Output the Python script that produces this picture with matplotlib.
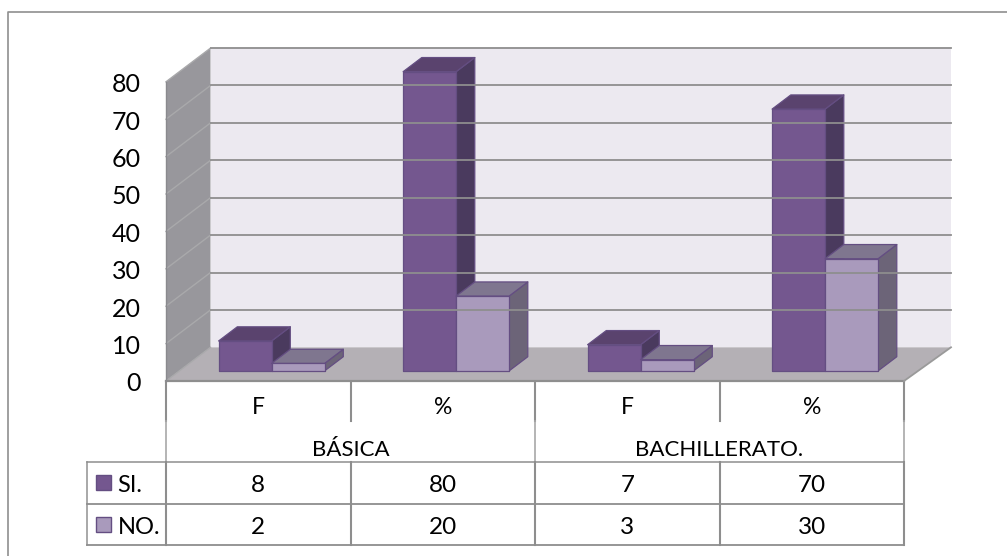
import matplotlib
matplotlib.use("Agg")
import matplotlib.pyplot as plt
from matplotlib.patches import Polygon, Rectangle

groups = ["BÁSICA", "BACHILLERATO."]
categories = ["F", "%", "F", "%"]
si_values = [8, 80, 7, 70]
no_values = [2, 20, 3, 30]
y_ticks = [0, 10, 20, 30, 40, 50, 60, 70, 80]

W, H = 1007, 556
plt.rcParams["font.family"] = ["Lato", "DejaVu Sans"]
fig = plt.figure(figsize=(W / 100, H / 100), dpi=100)

# pixel axes for frame and data table
tb = fig.add_axes([0, 0, 1, 1])
tb.set_xlim(0, W)
tb.set_ylim(H, 0)
tb.axis("off")

# chart axes: x in categories, y in values, covers the whole figure
ux, uy = 184.5, 3.74
x0, y0 = 166, 381
ax = fig.add_axes([0, 0, 1, 1])
ax.set_xlim(-x0 / ux, (W - x0) / ux)
ax.set_ylim(-(H - y0) / uy, y0 / uy)
ax.axis("off")
ax.patch.set_alpha(0)

depth_x = 44.5 / ux
depth_y = 33.7 / uy


def proj(x, y, d):
    return (x + depth_x * d, y + depth_y * d)


n = len(categories)
back_n = n + 2.5 / ux
top = y_ticks[-1]
grid_c = "#8E8E8E"

ax.add_patch(Polygon([proj(0, 0, 1), proj(back_n, 0, 1), proj(back_n, top, 1), proj(0, top, 1)],
                     fc="#ECE9F0", ec="none"))
ax.add_patch(Polygon([proj(0, 0, 0), proj(0, 0, 1), proj(0, top, 1), proj(0, top, 0)],
                     fc="#98979C", ec="none"))
ax.add_patch(Polygon([proj(0, 0, 0), proj(n, 0, 0), proj(back_n, 0, 1), proj(0, 0, 1)],
                     fc="#B4B0B5", ec="none"))

for t in y_ticks:
    a, b, c = proj(0, t, 0), proj(0, t, 1), proj(back_n, t, 1)
    ax.plot([a[0], b[0]], [a[1], b[1]], color="#A9A9AB", lw=1.0)
    if t > 0:
        ax.plot([b[0], c[0]], [b[1], c[1]], color=grid_c, lw=1.3)
    ax.text(-25 / ux, t - 0.8, str(t), ha="right", va="center", fontsize=18, color="black")

# outline of the floor front and the left wall
a, b = proj(n, 0, 0), proj(back_n, 0, 1)
ax.plot([0, n], [0, 0], color=grid_c, lw=1.6)
ax.plot([a[0], b[0]], [a[1], b[1]], color="#9A9A9A", lw=1.3)
ax.plot([0, 0], [0, top], color="#8A8A8E", lw=1.0)

bar_w = 53 / ux
d1, d2 = 0.3, 0.72


def bar3d(left, val, front, upper, side):
    right = left + bar_w
    edge = "#644E82"
    ax.add_patch(Polygon([proj(right, 0, d1), proj(right, 0, d2), proj(right, val, d2), proj(right, val, d1)],
                         fc=side, ec=edge, lw=0.9, joinstyle="round"))
    ax.add_patch(Polygon([proj(left, val, d1), proj(right, val, d1), proj(right, val, d2), proj(left, val, d2)],
                         fc=upper, ec=edge, lw=0.9, joinstyle="round"))
    ax.add_patch(Polygon([proj(left, 0, d1), proj(right, 0, d1), proj(right, val, d1), proj(left, val, d1)],
                         fc=front, ec=edge, lw=0.9, joinstyle="round"))


for i in range(n):
    c = i + 0.5
    bar3d(c - bar_w, si_values[i], "#74578F", "#5A436E", "#4A3A5E")
    bar3d(c, no_values[i], "#A99ABC", "#7F768F", "#6C6478")

# outer frame
tb.plot([8, 8, W], [H, 12, 12], color="#8F8F8F", lw=1.2)

# data table
xs = [166, 350.5, 535, 719.5, 904]
line_c = "#8E8E8E"
for x in xs:
    tb.plot([x, x], [381, 421], color=line_c, lw=1.5)
for x in xs[::2]:
    tb.plot([x, x], [421, 462], color="#A8A8A8", lw=1.2)
for x in xs:
    tb.plot([x, x], [462, 545], color=line_c, lw=1.5)
tb.plot([87, 87], [462, 545], color="#9A9A9A", lw=1.2)
for y in [462, 504, 545]:
    tb.plot([87, 904], [y, y], color=line_c, lw=1.3 if y != 462 else 1.1)

for i in range(n):
    xc = (xs[i] + xs[i + 1]) / 2
    tb.text(xc, 408, categories[i], ha="center", va="center", fontsize=16.5, color="black")
    tb.text(xc, 486, str(si_values[i]), ha="center", va="center", fontsize=17.5, color="black")
    tb.text(xc, 528, str(no_values[i]), ha="center", va="center", fontsize=17.5, color="black")
for i, g in enumerate(groups):
    tb.text(xs[2 * i + 1], 450, g, ha="center", va="center", fontsize=16, color="black")

tb.add_patch(Rectangle((96, 475), 15, 15, fc="#74578F", ec="#644E82", lw=1))
tb.add_patch(Rectangle((96, 517), 15, 15, fc="#A99ABC", ec="#644E82", lw=1))
tb.text(117, 485, "SI.", ha="left", va="center", fontsize=17, color="black")
tb.text(118, 527, "NO.", ha="left", va="center", fontsize=17, color="black")

fig.savefig("out.png", dpi=100)
